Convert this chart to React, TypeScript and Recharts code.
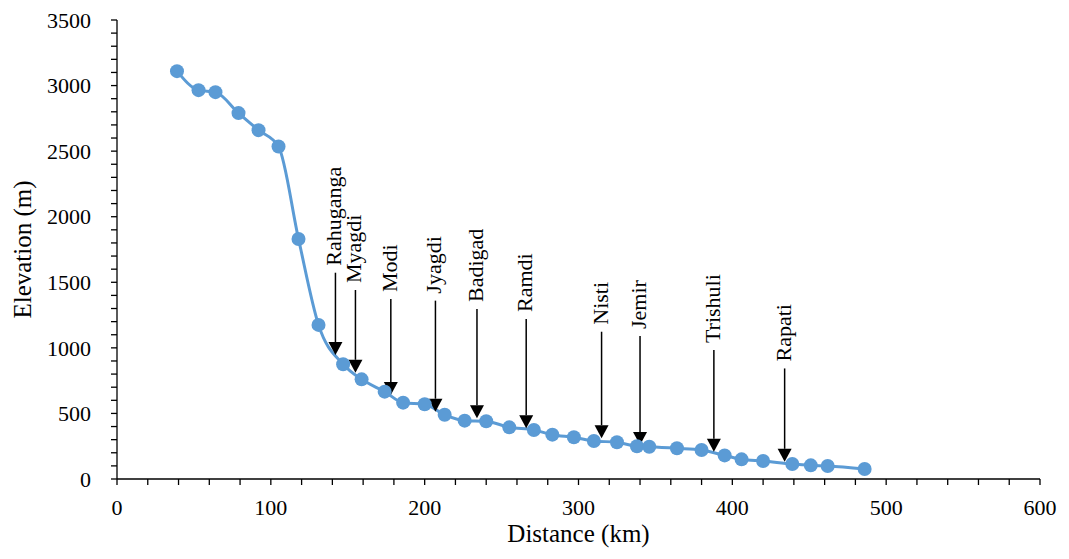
import React from "react";
import { LineChart, Line, XAxis, YAxis, ReferenceLine, Label } from "recharts";

// longitudinal profile: distance along river (km) vs bed elevation (m)
const distanceKm = [39, 53, 64, 79, 92, 105, 118, 131, 147, 159, 174, 186, 200, 213, 226, 240, 255, 271, 283, 297, 310, 325, 338, 346, 364, 380, 395, 406, 420, 439, 451, 462, 486];
const elevationM = [3110, 2965, 2950, 2790, 2660, 2535, 1830, 1175, 875, 760, 666, 582, 570, 490, 445, 440, 394, 374, 338, 318, 290, 280, 250, 246, 234, 221, 180, 150, 137, 114, 104, 99, 76];

// tributary confluences marked with arrows
const tributaries = ["Rahuganga", "Myagdi", "Modi", "Jyagdi", "Badigad", "Ramdi", "Nisti", "Jemir", "Trishuli", "Rapati"];
const tributaryKm = [142, 155, 178, 207, 234, 266, 315, 340, 388, 434];
const arrowTipM = [945, 810, 640, 513, 463, 387, 311, 259, 208, 131];
const arrowTailM = [1573, 1441, 1373, 1360, 1296, 1220, 1123, 1090, 983, 843];

const xLabels = [0, 100, 200, 300, 400, 500, 600];
const yLabels = [0, 500, 1000, 1500, 2000, 2500, 3000, 3500];
const X_MINOR = 20;
const Y_MINOR = 100;

const xTicks = Array.from({ length: 600 / X_MINOR + 1 }, (_, i) => i * X_MINOR);
const yTicks = Array.from({ length: 3500 / Y_MINOR + 1 }, (_, i) => i * Y_MINOR);

const data = distanceKm.map((d, i) => ({ distance: d, elevation: elevationM[i] }));

const serif: React.CSSProperties = { fontFamily: '"Liberation Serif", "DejaVu Serif", serif' };
const BLUE = "#5B9BD5";

const XTick = (props: any) => {
  const { x, y, payload } = props;
  if (!xLabels.includes(payload.value)) return <g />;
  return (
    <text x={x} y={y} dy="0.71em" textAnchor="middle" fontSize={22} style={serif} fill="#000">
      {payload.value}
    </text>
  );
};

const YTick = (props: any) => {
  const { x, y, payload } = props;
  if (!yLabels.includes(payload.value)) return <g />;
  return (
    <text x={x} y={y} dy="0.35em" textAnchor="end" fontSize={22} style={serif} fill="#000">
      {payload.value}
    </text>
  );
};

const Arrow = (props: any) => {
  const { x1, y1, y2, name } = props;
  const top = Math.min(y1, y2);
  const tip = Math.max(y1, y2);
  const x = x1;
  const head = 13;
  const tx = x + 6;
  const ty = top - 7;
  return (
    <g>
      <line x1={x} y1={top} x2={x} y2={tip - head} stroke="#000" strokeWidth={1.5} />
      <polygon points={`${x - 7},${tip - head} ${x + 7},${tip - head} ${x},${tip}`} fill="#000" />
      <text x={tx} y={ty} transform={`rotate(-90 ${tx} ${ty})`} textAnchor="start" fontSize={22} style={serif} fill="#000">
        {name}
      </text>
    </g>
  );
};

const XTitle = (props: any) => {
  const vb = props.viewBox || { x: 109, y: 471, width: 923, height: 72 };
  return (
    <text x={vb.x + vb.width / 2} y={vb.y + 63} textAnchor="middle" fontSize={25} style={serif} fill="#000">
      Distance (km)
    </text>
  );
};

const YTitle = (props: any) => {
  const vb = props.viewBox || { x: 0, y: 12, width: 109, height: 459 };
  const cx = vb.x + 23;
  const cy = vb.y + vb.height / 2;
  return (
    <text x={cx} y={cy} transform={`rotate(-90 ${cx} ${cy})`} textAnchor="middle" fontSize={25} style={serif} fill="#000">
      Elevation (m)
    </text>
  );
};

export default function App() {
  return (
    <div style={{ width: 1053, height: 543 }}>
      <LineChart width={1053} height={543} data={data} margin={{ top: 12, right: 21, left: 0, bottom: 0 }}>
        <XAxis
          type="number"
          dataKey="distance"
          domain={[0, 600]}
          ticks={xTicks}
          interval={0}
          height={72}
          tickSize={6}
          tickMargin={14}
          tick={<XTick />}
          axisLine={{ stroke: "#000", strokeWidth: 1.3 }}
          tickLine={{ stroke: "#000", strokeWidth: 1.3 }}
        >
          <Label content={<XTitle />} />
        </XAxis>
        <YAxis
          type="number"
          domain={[0, 3500]}
          ticks={yTicks}
          interval={0}
          width={109}
          tickSize={6}
          tickMargin={20}
          tick={<YTick />}
          axisLine={{ stroke: "#000", strokeWidth: 1.3 }}
          tickLine={{ stroke: "#000", strokeWidth: 1.3 }}
        >
          <Label content={<YTitle />} />
        </YAxis>
        <Line
          type="monotone"
          dataKey="elevation"
          stroke={BLUE}
          strokeWidth={3}
          dot={{ r: 7, fill: BLUE, stroke: BLUE, strokeWidth: 0 }}
          isAnimationActive={false}
        />
        {tributaries.map((name, i) => (
          <ReferenceLine
            key={name}
            segment={[
              { x: tributaryKm[i], y: arrowTailM[i] },
              { x: tributaryKm[i], y: arrowTipM[i] },
            ]}
            ifOverflow="visible"
            shape={(p: any) => <Arrow {...p} name={name} />}
          />
        ))}
      </LineChart>
    </div>
  );
}
